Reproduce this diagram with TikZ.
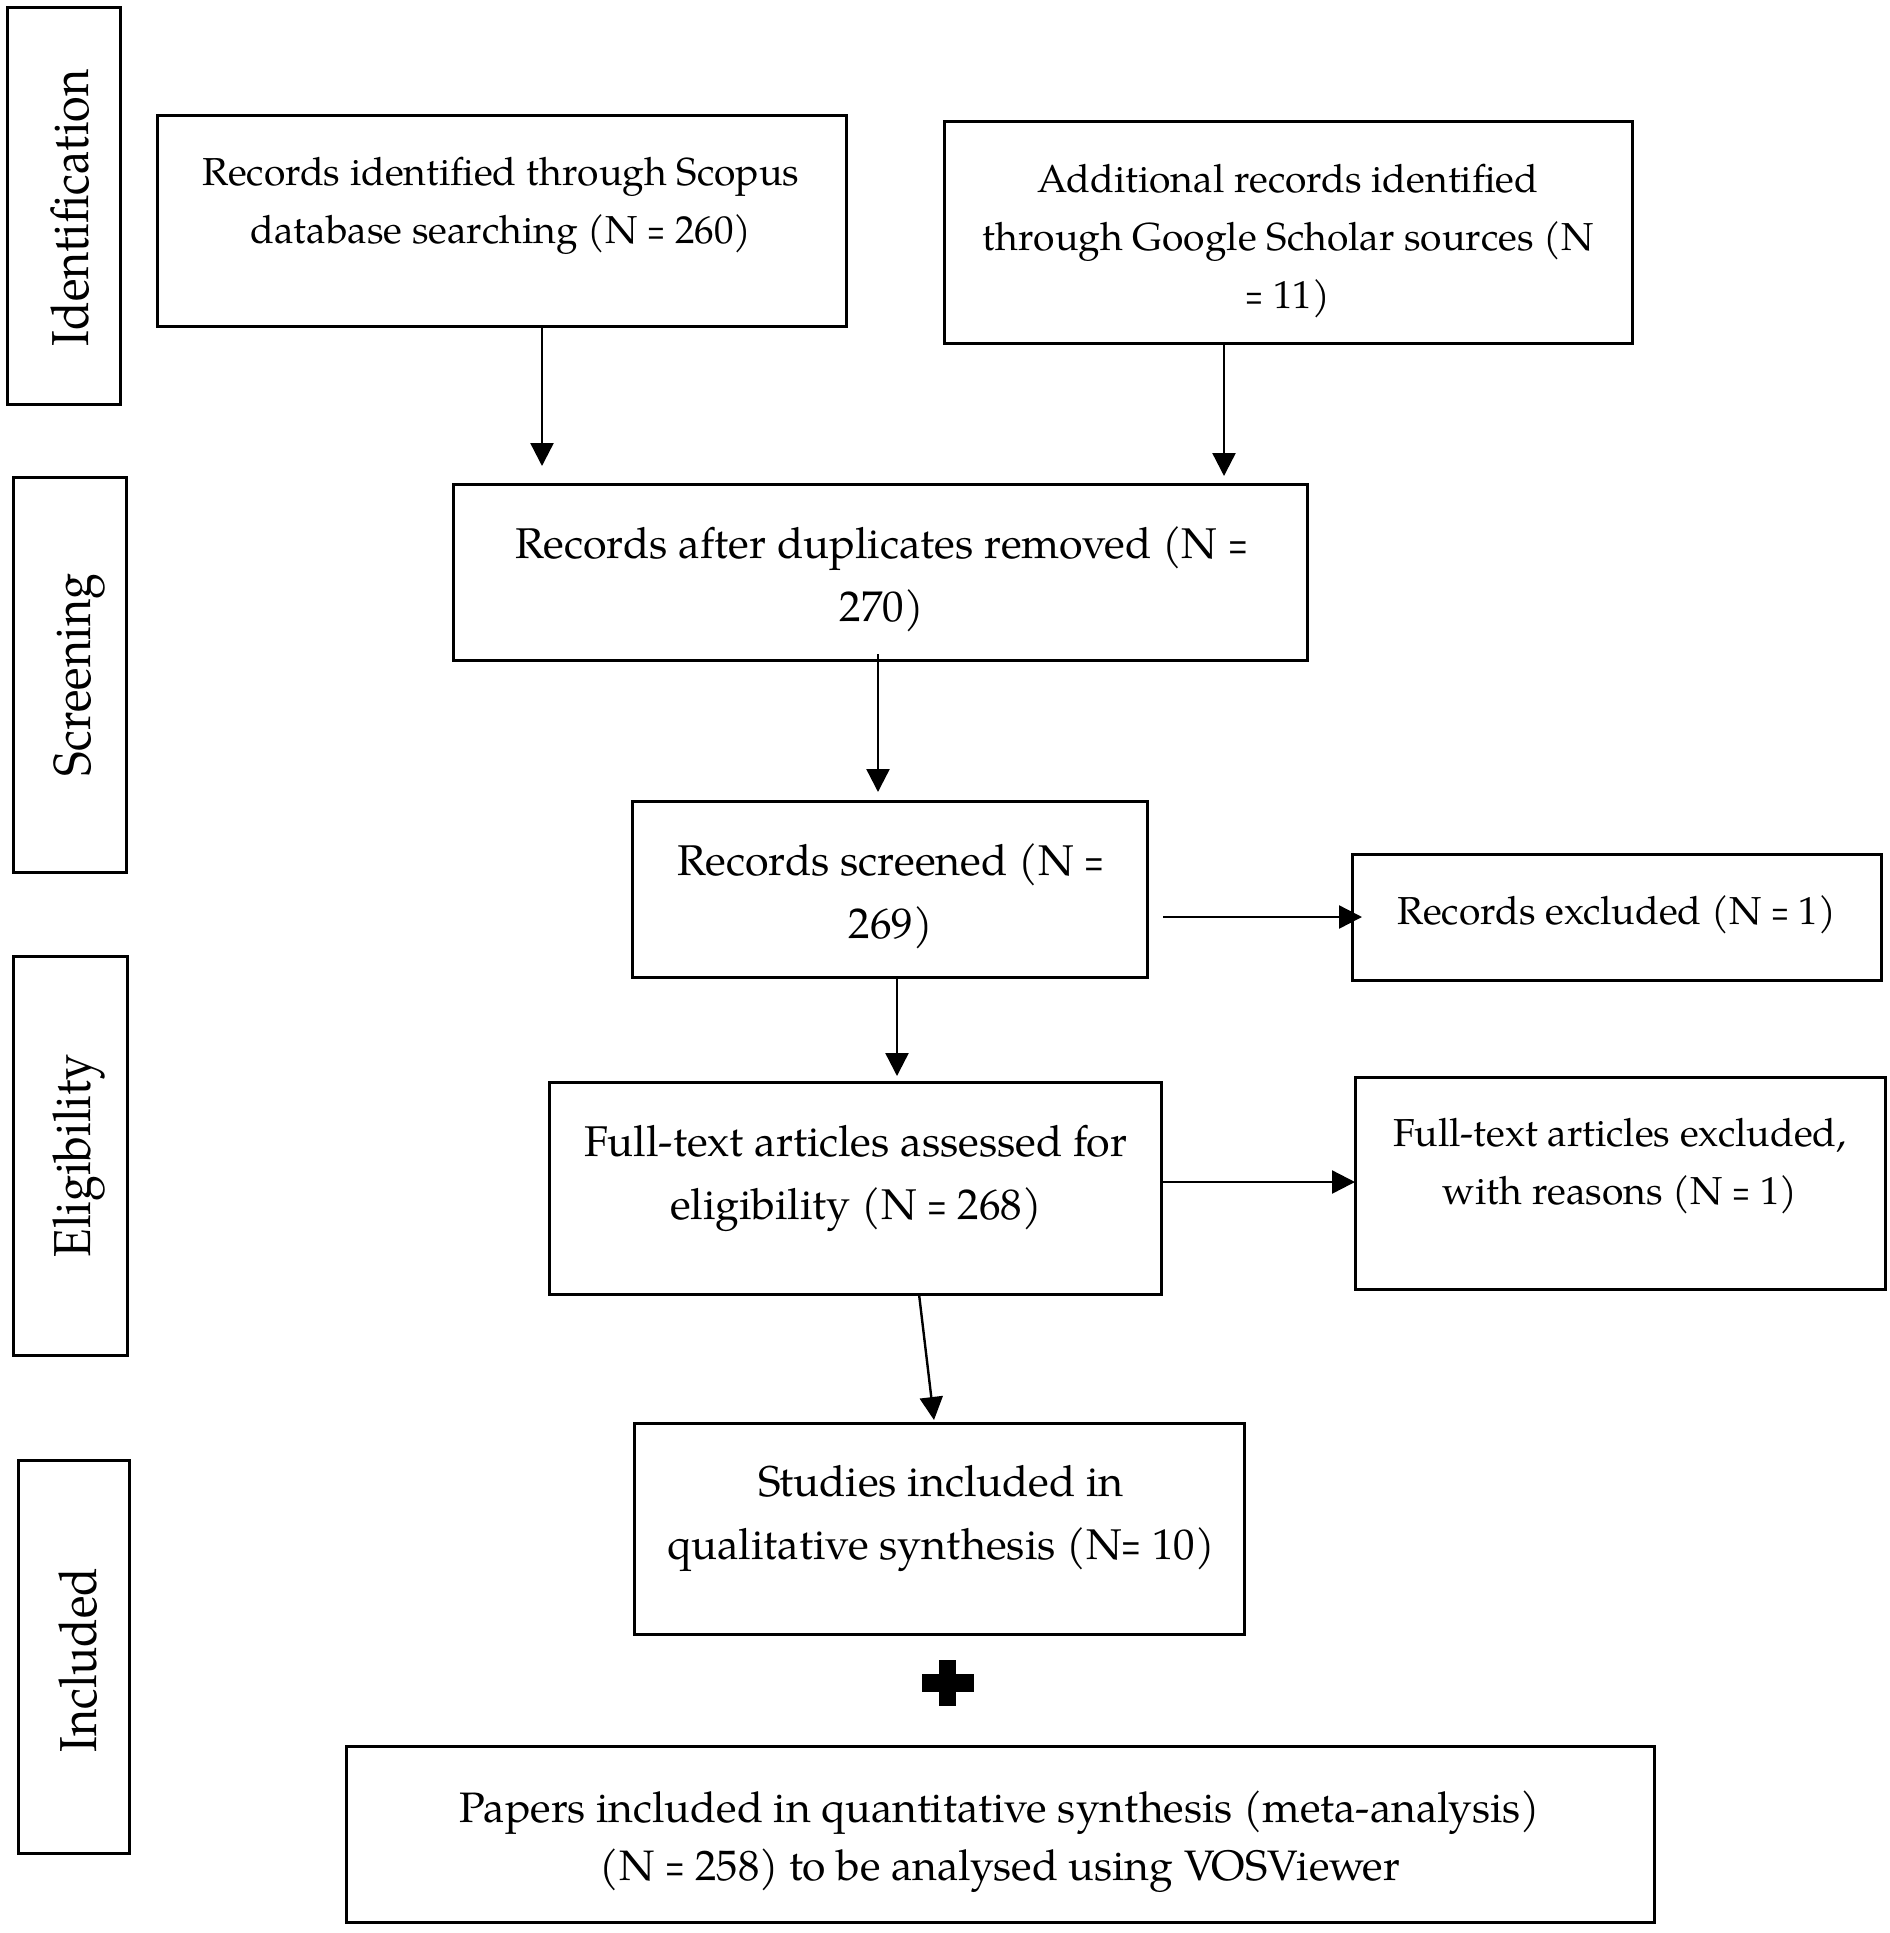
\documentclass[tikz,border=0pt]{standalone}
\usepackage{fontspec}
\setmainfont{TeX Gyre Pagella}
\usetikzlibrary{fit,calc,arrows.meta}
\newcommand\myeq{\scalebox{0.6}[1]{=}}
\newcommand\sidelab[1]{\scalebox{0.9}[1]{#1}}
\begin{document}
\begin{tikzpicture}[x=0.5pt,y=-0.5pt,
  box/.style={draw,line width=1.5pt,inner sep=0pt,outer sep=0pt,rectangle},
  arr/.style={line width=1.2pt,-{Triangle[length=11.5pt,width=11.5pt]}},
  smalltxt/.style={align=center,inner sep=0pt,font=\fontsize{19.5}{29}\selectfont},
  papertxt/.style={align=center,inner sep=0pt,font=\fontsize{21.3}{29}\selectfont},
  bigtxt/.style={align=center,inner sep=0pt,font=\fontsize{21.5}{31.5}\selectfont},
  sidetxt/.style={rotate=90,anchor=base,inner sep=0pt,font=\fontsize{26}{30}\selectfont}]
\useasboundingbox (0,0) rectangle (1890,1933);
% side phase boxes
\node[box,fit={(7,7) (120,404)}] (idbox) {};
\node[box,fit={(13,477) (126,872)}] (scbox) {};
\node[box,fit={(13,956) (127,1355)}] (elbox) {};
\node[box,fit={(18,1460) (129,1853)}] (inbox) {};
\node[sidetxt] (idtxt) at (88,208) {\sidelab{Identification}};
\node[sidetxt] (sctxt) at (90,675) {\sidelab{Screening}};
\node[sidetxt] (eltxt) at (90,1156) {\sidelab{Eligibility}};
\node[sidetxt] (intxt) at (96,1660) {\sidelab{Included}};
% main boxes
\node[box,fit={(157,115) (846,326)}] (scopus) {};
\node[box,fit={(944,121) (1632,343)}] (google) {};
\node[box,fit={(453,484) (1307,660)}] (dup) {};
\node[box,fit={(632,801) (1147,977)}] (screened) {};
\node[box,fit={(1352,854) (1881,980)}] (excluded) {};
\node[box,fit={(549,1082) (1161,1294)}] (fulltext) {};
\node[box,fit={(1355,1077) (1885,1289)}] (ftexcl) {};
\node[box,fit={(634,1423) (1244,1634)}] (studies) {};
\node[box,fit={(346,1746) (1654,1922)}] (papers) {};
% texts
\node[smalltxt] (t1) at (501,206) {Records identified through Scopus\\database searching (N \myeq{} 260)};
\node[smalltxt] (t2) at (1288,241) {Additional records identified\\through Google Scholar sources (N\\\myeq{} 11)};
\node[bigtxt] (t3) at (882,579) {Records after duplicates removed (N \myeq\\270)};
\node[bigtxt] (t4) at (891,896) {Records screened (N \myeq\\269)};
\node[smalltxt] (t5) at (1617,915) {Records excluded (N \myeq{} 1)};
\node[bigtxt] (t6) at (856,1178) {Full-text articles assessed for\\eligibility (N \myeq{} 268)};
\node[smalltxt] (t7) at (1620,1166) {Full-text articles excluded,\\with reasons (N \myeq{} 1)};
\node[bigtxt] (t8) at (941,1518) {Studies included in\\qualitative synthesis (N\myeq{} 10)};
\node[papertxt] (t9) at (1000,1842) {Papers included in quantitative synthesis (meta-analysis)\\(N \myeq{} 258) to be analysed using VOSViewer};
% connectors
\draw[arr] let \p1=(scopus.south), \p2=(dup.north) in (\x1+20.25pt,\y1) -- (\x1+20.25pt,\y2+9pt);
\draw[arr] let \p1=(google.south), \p2=(dup.north) in (\x1-32pt,\y1) -- (\x1-32pt,\y2+4pt);
\draw[arr] let \p1=(dup.south), \p2=(screened.north) in (\x1-1pt,\y1+3pt) -- (\x1-1pt,\y2+4.5pt);
\draw[arr] let \p1=(screened.east), \p2=(excluded.west) in (\x1+8pt,\y1-14pt) -- (\x2+5pt,\y1-14pt);
\draw[arr] let \p1=(screened.south), \p2=(fulltext.north) in (\x1+3.75pt,\y1) -- (\x1+3.75pt,\y2+3pt);
\draw[arr] let \p1=(fulltext.east), \p2=(ftexcl.west) in (\x1,\y1+3pt) -- (\x2,\y1+3pt);
\draw[arr] let \p1=(fulltext.south), \p2=(studies.north) in (\x1+32pt,\y1) -- (\x2-2.5pt,\y2+1.5pt);
% plus sign
\fill (922,1674) rectangle (974,1692);
\fill (939,1660) rectangle (956,1706);
\end{tikzpicture}
\end{document}
